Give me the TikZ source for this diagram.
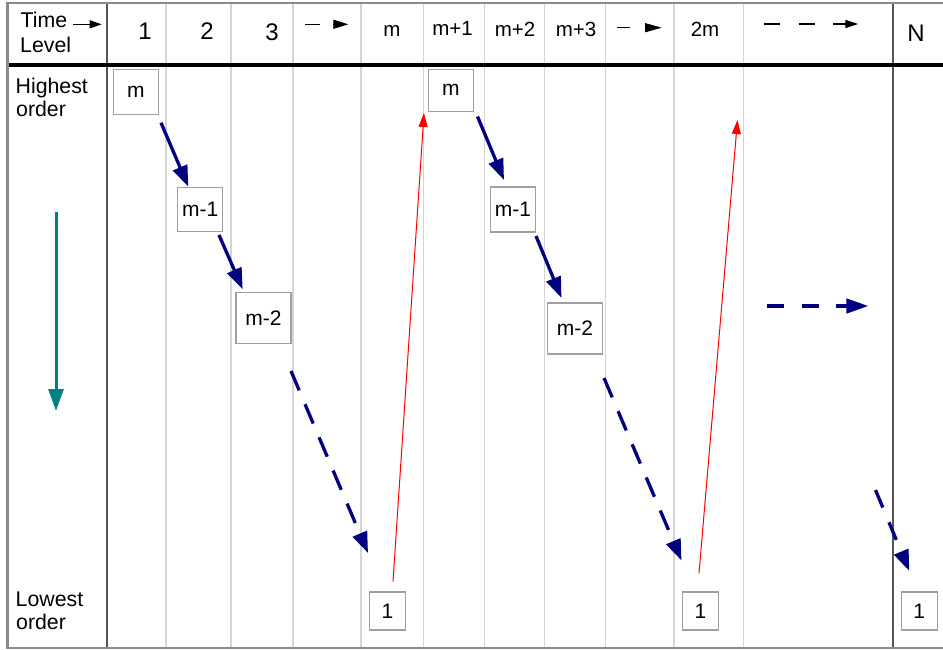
\documentclass[tikz,border=0pt]{standalone}
\usepackage{fontspec}
\setmainfont{Liberation Sans}
\usetikzlibrary{arrows.meta}
\definecolor{navyblue}{HTML}{000080}
\definecolor{tealc}{HTML}{008080}
\definecolor{gridlight}{HTML}{D4D4D4}
\definecolor{griddark}{HTML}{555555}
\definecolor{framegray}{HTML}{8A8A8A}
\definecolor{boxgray}{HTML}{A0A0A0}
\tikzset{
  lvbox/.style={draw=boxgray, line width=1.2pt, fill=white, inner sep=0pt,
    font=\fontsize{21}{25}\selectfont},
  hdrbig/.style={anchor=base, inner sep=0pt, font=\fontsize{24}{28}\selectfont},
  hdrsmall/.style={anchor=base, inner sep=0pt, font=\fontsize{20.5}{24}\selectfont},
  sidelabel/.style={anchor=base west, inner sep=0pt, font=\fontsize{21.3}{25}\selectfont},
  gridthin/.style={draw=gridlight, line width=1.4pt},
  gridthick/.style={draw=griddark, line width=1.8pt},
  stepdown/.style={draw=navyblue, line width=3.3pt,
    -{Triangle[length=21pt,width=15pt]}},
  jumpdown/.style={stepdown, dash pattern=on 21pt off 15pt},
  resetup/.style={draw=red, line width=1pt, -{Triangle[length=14pt,width=9pt]}},
  hdrarrow/.style={draw=black, line width=1.3pt, -{Triangle[length=15pt,width=9pt]}}
}
\begin{document}
\begin{tikzpicture}[x=1pt, y=-1pt]
\useasboundingbox (0,0) rectangle (943,650);

% column separators
\foreach \cx in {166,231,293,361,423.3,484.3,544.5,605.7,674,743.3}
  \draw[gridthin] (\cx,3) -- (\cx,648);
\draw[gridthick] (107.3,3) -- (107.3,648);
\draw[gridthick] (892.7,3) -- (892.7,648);

% header rule and outer frame
\draw[black, line width=3.5pt] (7.5,65) -- (943,65);
\draw[framegray, line width=2.5pt] (943,3) -- (7.5,3) -- (7.5,648) -- (943,648);

% header row
\node[sidelabel] (tlab) at (20.5,28) {Time};
\node[sidelabel] (llab) at (20,53) {Level};
\coordinate (ta0) at (73,24.3);
\coordinate (ta1) at (101.7,24.3);
\draw[draw=black, line width=1.3pt, -{Triangle[length=12pt,width=8pt]}] (ta0) -- (ta1);

\node[hdrbig] (h1) at (145,40) {1};
\node[hdrbig] (h2) at (207,40) {2};
\node[hdrbig] (h3) at (272,41) {3};
\node[hdrsmall] (hm) at (392,37) {m};
\node[hdrsmall] (hm1) at (452.5,36) {m+1};
\node[hdrsmall] (hm2) at (515,37) {m+2};
\node[hdrsmall] (hm3) at (576,37) {m+3};
\node[hdrsmall] (h2m) at (705,37) {2m};
\node[hdrbig] (hN) at (916,42) {N};

\coordinate (da0) at (305,24.3);
\coordinate (da1) at (348.3,24.3);
\draw[hdrarrow, dash pattern=on 15pt off 13pt] (da0) -- (da1);
\coordinate (db0) at (616.7,27.7);
\coordinate (db1) at (661.7,27.7);
\draw[hdrarrow, dash pattern=on 13.3pt off 15pt, -{Triangle[length=16.7pt,width=9pt]}] (db0) -- (db1);
\coordinate (dc0) at (764,24);
\coordinate (dc1) at (858.3,24);
\draw[hdrarrow, dash pattern=on 16pt off 18.5pt, -{Triangle[length=13pt,width=8pt]}] (dc0) -- (dc1);

% level labels
\node[sidelabel] (hi1) at (15.5,94) {Highest};
\node[sidelabel] (hi2) at (16,117) {order};
\node[sidelabel] (lo1) at (15.5,606) {Lowest};
\node[sidelabel] (lo2) at (16,629) {order};

% order direction
\coordinate (ord0) at (56,211.7);
\coordinate (ord1) at (56,411);
\draw[draw=tealc, line width=3pt, -{Triangle[length=22pt,width=15pt]}] (ord0) -- (ord1);

% first cycle
\node[lvbox, minimum width=45pt, minimum height=45pt] (am)  at (135.8,91.7) {m};
\node[lvbox, minimum width=45pt, minimum height=44pt] (am1) at (200.2,209.5) {m-1};
\node[lvbox, minimum width=55pt, minimum height=51pt] (am2) at (263.5,318.3) {m-2};
\node[lvbox, minimum width=36.5pt, minimum height=38pt] (a1) at (387.5,611) {1};

% second cycle
\node[lvbox, minimum width=45pt, minimum height=42pt] (bm)  at (450.8,90.2) {m};
\node[lvbox, minimum width=45pt, minimum height=45pt] (bm1) at (513,209.5) {m-1};
\node[lvbox, minimum width=55pt, minimum height=51pt] (bm2) at (575,328.5) {m-2};
\node[lvbox, minimum width=36.5pt, minimum height=38pt] (b1) at (700.5,611) {1};

% last step
\node[lvbox, minimum width=36pt, minimum height=38pt] (c1) at (919.3,611) {1};

% connector end points
\coordinate (s1) at (161,122.7);   \coordinate (e1) at (188.3,186.7);
\coordinate (s2) at (219,235);     \coordinate (e2) at (242.7,289.3);
\coordinate (s3) at (291,371);     \coordinate (e3) at (368,553);
\coordinate (r1s) at (393,581.5);  \coordinate (r1e) at (424,113);
\coordinate (s4) at (477.5,116.5); \coordinate (e4) at (504,180);
\coordinate (s5) at (536,236);     \coordinate (e5) at (561.5,298);
\coordinate (s6) at (604,378);     \coordinate (e6) at (681.5,560.5);
\coordinate (r2s) at (699,573.3);  \coordinate (r2e) at (737.5,120);
\coordinate (s7) at (766.7,306);   \coordinate (e7) at (868.3,306);
\coordinate (s8) at (875.5,490);   \coordinate (e8) at (909.3,571);

\draw[stepdown] (s1) -- (e1);
\draw[stepdown] (s2) -- (e2);
\draw[jumpdown] (s3) -- (e3);
\draw[resetup] (r1s) -- (r1e);
\draw[stepdown] (s4) -- (e4);
\draw[stepdown] (s5) -- (e5);
\draw[jumpdown] (s6) -- (e6);
\draw[resetup] (r2s) -- (r2e);
\draw[stepdown, dash pattern=on 17.5pt off 17.3pt, -{Triangle[length=22pt,width=14.5pt]}] (s7) -- (e7);
\draw[jumpdown, dash pattern=on 19pt off 16pt] (s8) -- (e8);
\end{tikzpicture}
\end{document}
